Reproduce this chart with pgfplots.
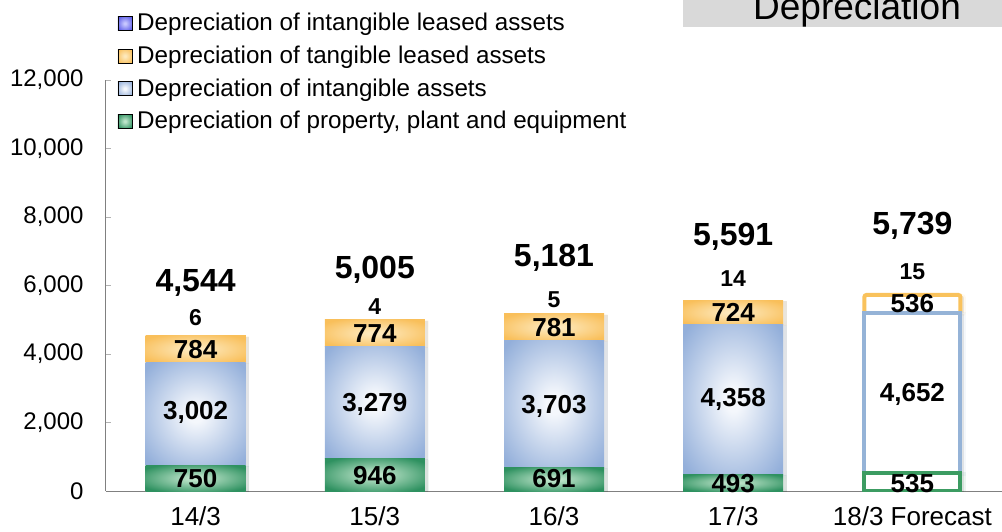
\documentclass[border=0pt]{standalone}
\usepackage{fontspec}
\setmainfont{Liberation Sans}
\usepackage{pgfplots}
\usepackage{pgfplotstable}
\usetikzlibrary{shadows}
\pgfplotsset{compat=1.18}
\definecolor{grnO}{HTML}{2E9160}
\definecolor{grnI}{HTML}{BFE5CB}
\definecolor{bluO}{HTML}{93AFDA}
\definecolor{bluI}{HTML}{F4F7FC}
\definecolor{orgO}{HTML}{F9BF5A}
\definecolor{orgI}{HTML}{FDE9BD}
\definecolor{purO}{HTML}{5C5CE8}
\definecolor{purI}{HTML}{C8C8FF}
\definecolor{grnL}{HTML}{3C9C62}
\definecolor{bluL}{HTML}{95B3D7}
\definecolor{orgL}{HTML}{F9C25C}
\definecolor{boxG}{HTML}{D9D9D9}

\pgfdeclareradialshading{shgrn}{\pgfpoint{0bp}{0bp}}{color(0bp)=(grnI); color(3bp)=(grnI); color(31bp)=(grnO); color(50bp)=(grnO)}
\pgfdeclareradialshading{shblu}{\pgfpoint{0bp}{0bp}}{color(0bp)=(bluI); color(4bp)=(bluI); color(33bp)=(bluO); color(50bp)=(bluO)}
\pgfdeclareradialshading{shorg}{\pgfpoint{0bp}{0bp}}{color(0bp)=(orgI); color(3bp)=(orgI); color(31bp)=(orgO); color(50bp)=(orgO)}
\pgfdeclareradialshading{shpur}{\pgfpoint{0bp}{0bp}}{color(0bp)=(purI); color(3bp)=(purI); color(31bp)=(purO); color(50bp)=(purO)}

\pgfplotstableread{
x ppe intang tanglease intanglease
0 750 3002 784 6
1 946 3279 774 4
2 691 3703 781 5
3 493 4358 724 14
}\actual
\pgfplotstableread{
x ppe intang tanglease intanglease
4 535 4652 536 15
}\forecast
\pgfplotstableread{
x y l
0 360 750
1 440 946
2 350 691
3 210 493
4 210 535
0 2300 3,002
1 2540 3,279
2 2480 3,703
3 2660 4,358
4 2830 4,652
0 4140 784
1 4610 774
2 4760 781
3 5200 724
4 5460 536
}\inlabels
\pgfplotstableread{
x y l
0 5050 6
1 5370 4
2 5580 5
3 6190 14
4 6400 15
}\smalllabels
\pgfplotstableread{
x y l
0 6070 4,544
1 6450 5,005
2 6800 5,181
3 7420 5,591
4 7740 5,739
}\totals

\pgfplotsset{base/.style={scale only axis, width=896pt, height=411pt,
  at={(106pt,40pt)}, anchor=south west, xmin=-0.5, xmax=4.5, ymin=0, ymax=12000},
  barshadow/.style={general shadow={shadow xshift=3.5pt, shadow yshift=-1pt, fill=black, opacity=0.09}}}

\begin{document}
\begin{tikzpicture}[x=1pt,y=1pt]
\useasboundingbox (0,0) rectangle (1002,531);
\fill[boxG] (683,504) rectangle (1010,545);
\node[anchor=base, inner sep=0pt, font=\fontsize{37}{40}\selectfont] at (857,511) {Depreciation};

% frame, ticks
\begin{axis}[base,
  axis x line*=bottom, axis y line*=left,
  axis line style={-, draw=gray, line width=1pt},
  xtick={0,...,4}, xticklabels={14/3,15/3,16/3,17/3,18/3 Forecast},
  ytick={0,2000,...,12000},
  scaled y ticks=false,
  tick align=inside,
  major tick length=5pt,
  xtick style={draw=none},
  ytick style={draw=gray!60, line width=0.8pt},
  /pgf/number format/1000 sep={,},
  /pgf/number format/assume math mode=true,
  ticklabel style={font=\fontsize{24}{26}\selectfont},
  yticklabel style={xshift=-19pt},
  xticklabel style={font=\fontsize{26}{28}\selectfont, yshift=-12pt},
]
\addplot[draw=none, mark=none] coordinates {(0,0)};
\end{axis}

% actual bars, one axis per bar so each bar gets its own shading
\foreach \i in {0,...,3}{
\begin{axis}[base, ybar stacked, bar width=100pt, hide axis, restrict x to domain=\i:\i]
\addplot[draw=none, barshadow, shade, shading=shgrn] table[x=x, y=ppe] {\actual};
\addplot[draw=none, barshadow, shade, shading=shblu] table[x=x, y=intang] {\actual};
\addplot[draw=none, barshadow, shade, shading=shorg] table[x=x, y=tanglease] {\actual};
\addplot[draw=none, fill=orgO] table[x=x, y=intanglease] {\actual};
\end{axis}
}

% forecast bar
\begin{axis}[base, ybar stacked, bar width=96pt, hide axis]
\addplot[fill=white, draw=grnL, line width=4pt, barshadow] table[x=x, y=ppe] {\forecast};
\addplot[fill=white, draw=bluL, line width=4pt, barshadow] table[x=x, y=intang] {\forecast};
\addplot[fill=white, draw=orgL, line width=4pt, rounded corners=2pt, barshadow] table[x=x, y=tanglease] {\forecast};
\addplot[fill=orgL, draw=none] table[x=x, y=intanglease] {\forecast};
\end{axis}

\begin{axis}[base, hide axis, clip=false,
  point meta=explicit symbolic,
  legend style={at={(0.0095,1.171)}, anchor=north west, draw=none, fill=none,
    font=\fontsize{24.2}{27}\selectfont, row sep=7.6pt,
    nodes={inner sep=1pt, text height=18pt, text depth=5pt},
    /tikz/every odd column/.append style={column sep=4pt}},
  legend cell align=left,
]
\addlegendimage{legend image code/.code={\shade[shading=shpur] (0pt,-6pt) rectangle (14pt,8pt);}}
\addlegendentry{Depreciation of intangible leased assets}
\addlegendimage{legend image code/.code={\shade[shading=shorg] (0pt,-6pt) rectangle (14pt,8pt);}}
\addlegendentry{Depreciation of tangible leased assets}
\addlegendimage{legend image code/.code={\shade[shading=shblu] (0pt,-6pt) rectangle (14pt,8pt);}}
\addlegendentry{Depreciation of intangible assets}
\addlegendimage{legend image code/.code={\shade[shading=shgrn] (0pt,-6pt) rectangle (14pt,8pt);}}
\addlegendentry{Depreciation of property, plant and equipment}

\addplot[draw=none, mark=none, nodes near coords,
  every node near coord/.style={anchor=center, font=\fontsize{26}{28}\selectfont\bfseries}]
  table[x=x, y=y, meta=l] {\inlabels};
\addplot[draw=none, mark=none, nodes near coords,
  every node near coord/.style={anchor=center, font=\fontsize{23}{25}\selectfont\bfseries}]
  table[x=x, y=y, meta=l] {\smalllabels};
\addplot[draw=none, mark=none, nodes near coords,
  every node near coord/.style={anchor=center, font=\fontsize{32}{34}\selectfont\bfseries}]
  table[x=x, y=y, meta=l] {\totals};
\end{axis}
\end{tikzpicture}
\end{document}
